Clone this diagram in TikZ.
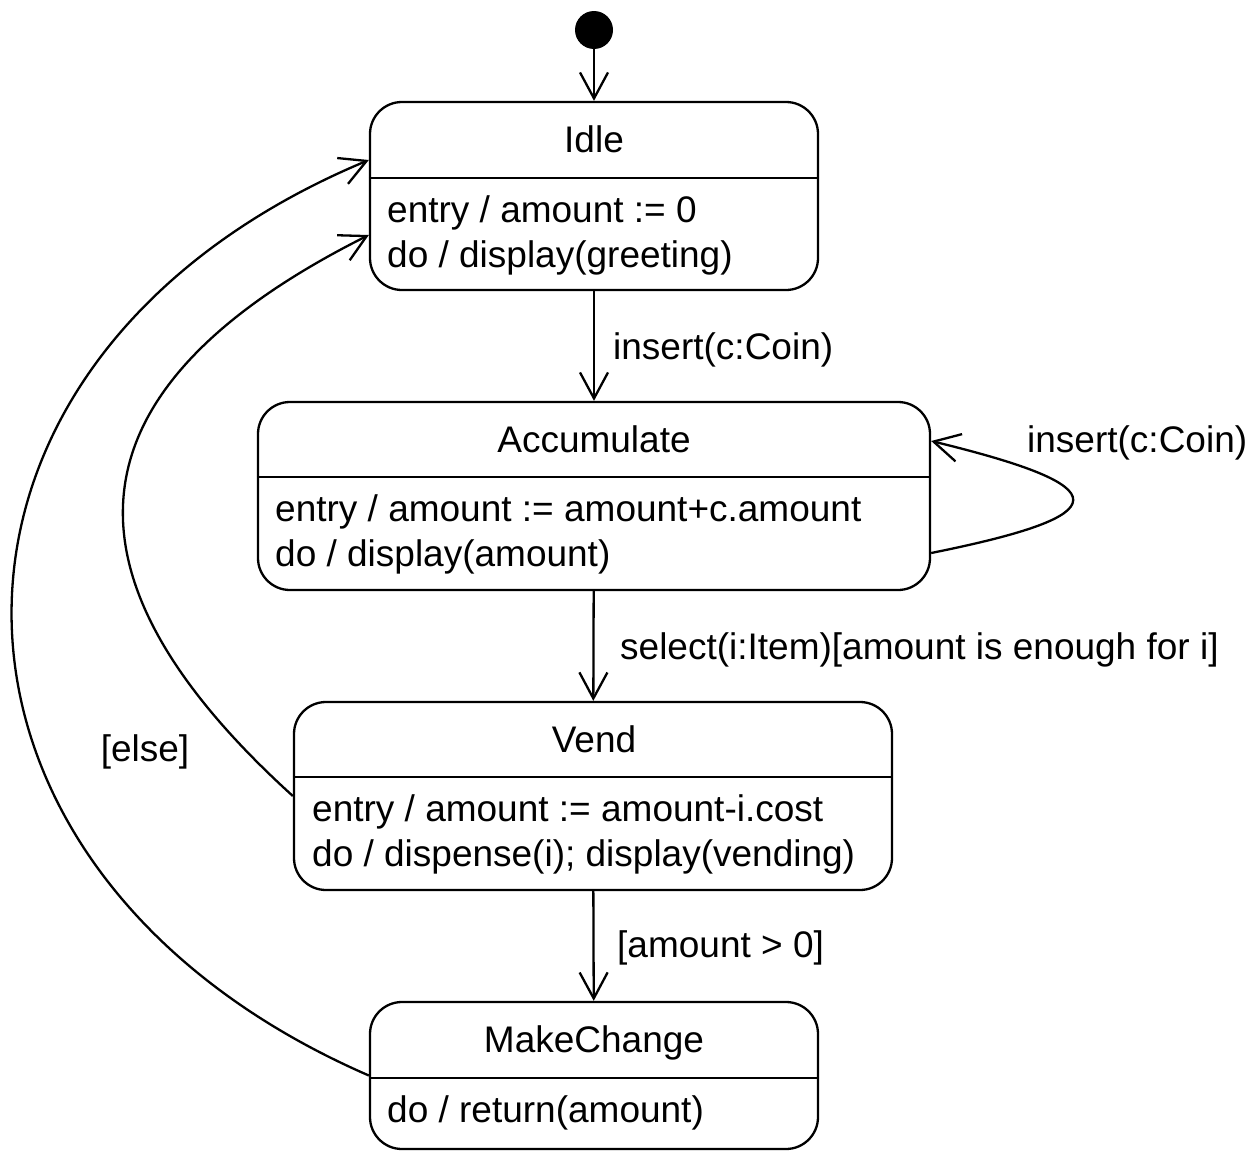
\documentclass[tikz,border=0pt]{standalone}
\usepackage{fontspec}
\setmainfont{Liberation Sans}
\usetikzlibrary{arrows.meta}
\begin{document}
\begin{tikzpicture}[x=1pt,y=-1pt,
  state/.style={draw, line width=2.3pt, rounded corners=32pt, inner sep=0pt},
  sep/.style={line width=2.3pt},
  arr/.style={line width=2.3pt, -{Straight Barb[length=26pt,width=28pt,line width=2.3pt]}},
  txt/.style={font=\fontsize{37}{45}\selectfont, inner sep=0pt},
]
\useasboundingbox (0,0) rectangle (1251,1151);
% states
\node[state, minimum width=448pt, minimum height=188pt] (idle) at (594,196) {};
\node[state, minimum width=672pt, minimum height=188pt] (acc) at (594,496) {};
\node[state, minimum width=598pt, minimum height=188pt] (vend) at (593,796) {};
\node[state, minimum width=448pt, minimum height=147pt] (mc) at (594,1075.5) {};
% separators
\coordinate (s1) at (0,178);
\coordinate (s2) at (0,477);
\coordinate (s3) at (0,777);
\coordinate (s4) at (0,1078);
\draw[sep] (idle.west |- s1) -- (idle.east |- s1);
\draw[sep] (acc.west |- s2) -- (acc.east |- s2);
\draw[sep] (vend.west |- s3) -- (vend.east |- s3);
\draw[sep] (mc.west |- s4) -- (mc.east |- s4);
% texts
\node[txt, anchor=base] (idlet) at (594,152) {Idle};
\node[txt, anchor=base west] (idle1) at (387,222) {entry / amount := 0};
\node[txt, anchor=base west] (idle2) at (387,267) {do / display(greeting)};
\node[txt, anchor=base] (acct) at (594,452) {Accumulate};
\node[txt, anchor=base west] (acc1) at (275,521) {entry / amount := amount+c.amount};
\node[txt, anchor=base west] (acc2) at (275,566) {do / display(amount)};
\node[txt, anchor=base] (vendt) at (594,752) {Vend};
\node[txt, anchor=base west] (vend1) at (312,821) {entry / amount := amount-i.cost};
\node[txt, anchor=base west] (vend2) at (312,866) {do / dispense(i); display(vending)};
\node[txt, anchor=base] (mct) at (594,1052) {MakeChange};
\node[txt, anchor=base west] (mc1) at (387,1122) {do / return(amount)};
% initial
\node[circle, fill, minimum size=38pt, inner sep=0pt] (init) at (594,30) {};
% transitions
\draw[arr] (init) -- (idle);
\draw[arr] (idle) -- (acc);
\draw[arr] (acc) -- (vend);
\draw[arr] (vend) -- (mc);
\draw[arr] ([yshift=-57pt]acc.east) .. controls (1120,515) and (1120,487) .. ([yshift=55pt]acc.east);
\draw[arr] (vend.west) .. controls (69,593) and (40,400) .. ([yshift=-39pt]idle.west);
\draw[arr] (mc.west) .. controls (-104,870) and (-110,360) .. ([yshift=36pt]idle.west);
% labels
\node[txt, anchor=base west] (l1) at (613,359) {insert(c:Coin)};
\node[txt, anchor=base west] (l2) at (1027,452) {insert(c:Coin)};
\node[txt, anchor=base west] (l3) at (620,659) {select(i:Item)[amount is enough for i]};
\node[txt, anchor=base west] (l4) at (617,957) {[amount > 0]};
\node[txt, anchor=base] (l5) at (145,761) {[else]};
\end{tikzpicture}
\end{document}
